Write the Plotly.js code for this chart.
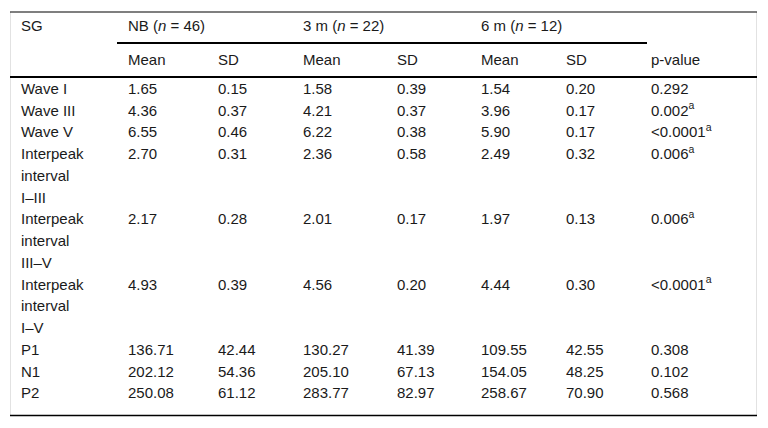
<!DOCTYPE html>
<html>
<head>
<meta charset="utf-8">
<script src="https://cdn.plot.ly/plotly-3.0.1.min.js"></script>
<style>
  html, body { margin: 0; padding: 0; background: #fff; }
  #table { width: 768px; height: 428px; }
</style>
</head>
<body>
<div id="table"></div>
<script>
// table data
let groupHeads = ['NB (<i>n</i> = 46)', '3 m (<i>n</i> = 22)', '6 m (<i>n</i> = 12)']
let subHeads = ['Mean', 'SD', 'Mean', 'SD', 'Mean', 'SD', 'p-value']
let rowLabels = [
  ['Wave I'], ['Wave III'], ['Wave V'],
  ['Interpeak', 'interval', 'I\u2013III'],
  ['Interpeak', 'interval', 'III\u2013V'],
  ['Interpeak', 'interval', 'I\u2013V'],
  ['P1'], ['N1'], ['P2']
]
let nbMean = [1.65, 4.36, 6.55, 2.70, 2.17, 4.93, 136.71, 202.12, 250.08]
let nbSD = [0.15, 0.37, 0.46, 0.31, 0.28, 0.39, 42.44, 54.36, 61.12]
let m3Mean = [1.58, 4.21, 6.22, 2.36, 2.01, 4.56, 130.27, 205.10, 283.77]
let m3SD = [0.39, 0.37, 0.38, 0.58, 0.17, 0.20, 41.39, 67.13, 82.97]
let m6Mean = [1.54, 3.96, 5.90, 2.49, 1.97, 4.44, 109.55, 154.05, 258.67]
let m6SD = [0.20, 0.17, 0.17, 0.32, 0.13, 0.30, 42.55, 48.25, 70.90]
let pValue = ['0.292', '0.002', '<0.0001', '0.006', '0.006', '<0.0001', '0.308', '0.102', '0.568']
let pSignificant = [false, true, true, true, true, true, false, false, false]

// layout (pixel units)
let colLeft = [21, 128, 218, 303, 397, 481, 566, 651]
let firstLineY = 90
let lineStep = 21.75
let headY = 27
let subHeadY = 61

let xs = [], ys = [], texts = []
function put(x, y, t) { xs.push(x); ys.push(y); texts.push(t) }

put(colLeft[0], headY, 'SG')
groupHeads.forEach(function(h, i) { put(colLeft[1 + i * 2], headY, h) })
subHeads.forEach(function(h, i) { put(colLeft[1 + i], subHeadY, h) })

let line = 0
rowLabels.forEach(function(lines, r) {
  let y = firstLineY + line * lineStep
  lines.forEach(function(l, k) { put(colLeft[0], y + k * lineStep, l) })
  let vals = [nbMean[r], nbSD[r], m3Mean[r], m3SD[r], m6Mean[r], m6SD[r]]
  vals.forEach(function(v, c) { put(colLeft[1 + c], y, v.toFixed(2)) })
  put(colLeft[7], y, pValue[r] + (pSignificant[r] ? '<sup>a</sup>' : ''))
  line += lines.length
})
let bottomY = firstLineY + (line - 1) * lineStep + 21

let trace = {
  x: xs, y: ys, text: texts,
  mode: 'text', type: 'scatter',
  textposition: 'middle right',
  textfont: { family: 'Liberation Sans, Arial, sans-serif', size: 15, color: '#1a1a1a' },
  hoverinfo: 'none', showlegend: false
}

function rule(x0, x1, y, w, c) {
  return { type: 'line', xref: 'x', yref: 'y', x0: x0, x1: x1, y0: y, y1: y, line: { color: c || '#000', width: w } }
}
let shapes = [
  { type: 'line', xref: 'x', yref: 'y', x0: 10.5, x1: 10.5, y0: 12, y1: bottomY, line: { color: '#e2e2e2', width: 1 } },
  { type: 'line', xref: 'x', yref: 'y', x0: 756.5, x1: 756.5, y0: 12, y1: bottomY, line: { color: '#e2e2e2', width: 1 } },
  rule(10, 757, 12, 1.2),
  rule(117, 647, 43, 2),
  rule(10, 757, 77, 2),
  rule(10, 757, bottomY, 1.5)
]

let layout = {
  width: 768, height: 428,
  margin: { l: 0, r: 0, t: 0, b: 0 },
  paper_bgcolor: '#fff', plot_bgcolor: '#fff',
  xaxis: { range: [0, 768], visible: false, fixedrange: true },
  yaxis: { range: [428, 0], visible: false, fixedrange: true },
  shapes: shapes
}

Plotly.newPlot('table', [trace], layout, { staticPlot: true, displayModeBar: false })
</script>
</body>
</html>
